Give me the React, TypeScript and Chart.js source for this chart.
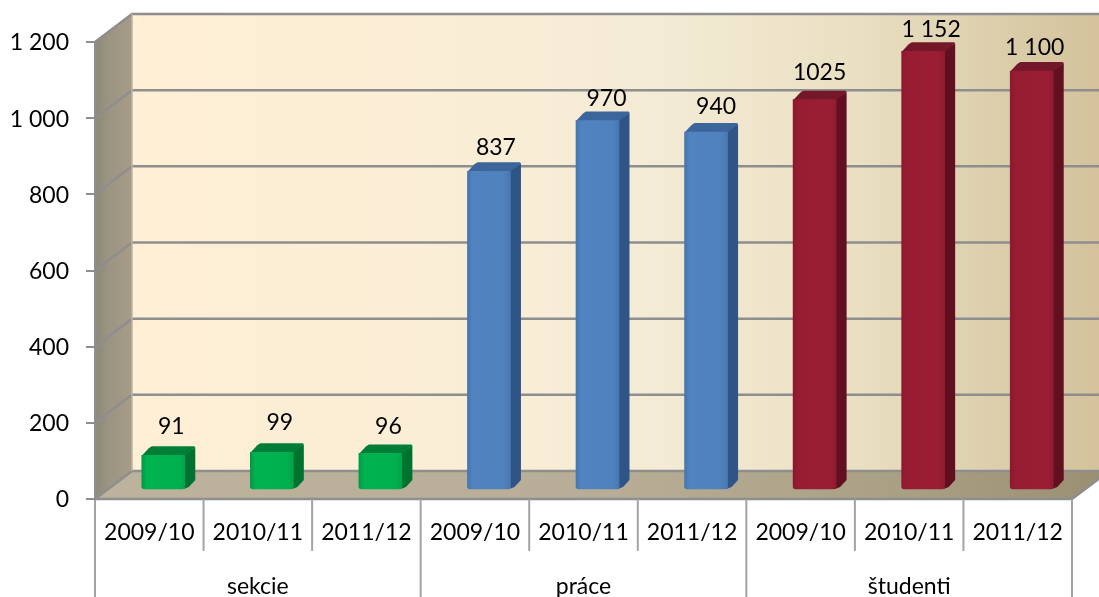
import React, { useEffect, useRef } from "react";
import { Chart, registerables } from "chart.js";

Chart.register(...registerables);

const years = ["2009/10", "2010/11", "2011/12", "2009/10", "2010/11", "2011/12", "2009/10", "2010/11", "2011/12"];
const groups = ["sekcie", "práce", "študenti"];
const values = [91, 99, 96, 837, 970, 940, 1025, 1152, 1100];
const valueLabels = ["91", "99", "96", "837", "970", "940", "1025", "1 152", "1 100"];
const yMax = 1200;
const yStep = 200;

const FONT = "Lato";
const FONT_SIZE = 23;
const W = 1099;
const H = 597;
const AXIS_W = 95;
const RIGHT_PAD = 27;
const TOP_PAD = 42;
const YEAR_ROW = 52;
const GROUP_ROW = 46;
const WALL_DX = 37;
const WALL_DY = 28;
const BAR_DX = 14;
const BAR_DY = 9;
const BAR_W = 43;
const SIDE_DX = 10.5;
const SIDE_DY = 9;
const LINE = "#8e8e8e";

// small per-label placement adjustments of the hand-placed value labels
const labelDx = [1, 1, 1, 0, 2, 3, -2, 1, -4];
const labelDy = [-11, -12, -9, -6, -4, -7, -9, -4, -6];

const palette = [
  { front: ["#009a45", "#00b351", "#00b04f", "#00a548"], top: "#007e37", side: "#00722f" },
  { front: ["#4676b0", "#5083c0", "#4f81bd", "#4878b2"], top: "#3c659b", side: "#2f5486" },
  { front: ["#8a1a2e", "#971c32", "#9b1e35", "#8f1b30"], top: "#74172a", side: "#62101f" },
];
const colorOf = (i: number) => palette[Math.floor(i / 3)];

const poly = (ctx: CanvasRenderingContext2D, pts: number[][], fill: any) => {
  ctx.beginPath();
  pts.forEach((p, i) => (i ? ctx.lineTo(p[0], p[1]) : ctx.moveTo(p[0], p[1])));
  ctx.closePath();
  ctx.fillStyle = fill;
  ctx.fill();
};

const hGrad = (ctx: CanvasRenderingContext2D, x0: number, x1: number, stops: [number, string][]) => {
  const g = ctx.createLinearGradient(x0, 0, x1, 0);
  stops.forEach(([o, c]) => g.addColorStop(o, c));
  return g;
};

const wallsPlugin = {
  id: "walls",
  beforeDraw(chart: any) {
    const { ctx, chartArea: a, scales } = chart;
    const y = scales.y;
    const bottom = y.getPixelForValue(0);
    const top = y.getPixelForValue(yMax);
    const backL = a.left + WALL_DX;
    const backR = a.right + WALL_DX;
    ctx.save();
    poly(
      ctx,
      [[backL, top - WALL_DY], [W, top - WALL_DY], [W, bottom - WALL_DY], [backL, bottom - WALL_DY]],
      hGrad(ctx, backL, W, [
        [0, "#feefd5"],
        [0.3, "#fbeed6"],
        [0.55, "#f4ebd5"],
        [0.75, "#e9dfc2"],
        [1, "#d3c29b"],
      ])
    );
    poly(
      ctx,
      [[a.left, bottom], [a.right, bottom], [backR, bottom - WALL_DY], [backL, bottom - WALL_DY]],
      hGrad(ctx, a.left, backR, [
        [0, "#bdb29b"],
        [0.5, "#b8ae97"],
        [0.8, "#a99f83"],
        [1, "#9a8f71"],
      ])
    );
    poly(
      ctx,
      [[a.left, top], [backL, top - WALL_DY], [backL, bottom - WALL_DY], [a.left, bottom]],
      hGrad(ctx, a.left, backL, [
        [0, "#8d8975"],
        [0.35, "#9a9482"],
        [1, "#a89c87"],
      ])
    );
    ctx.lineJoin = "round";
    ctx.strokeStyle = LINE;
    ctx.lineWidth = 2.5;
    for (const t of y.ticks) {
      const py = y.getPixelForValue(t.value);
      ctx.beginPath();
      ctx.moveTo(a.left, py);
      ctx.lineTo(backL, py - WALL_DY);
      ctx.lineTo(W, py - WALL_DY);
      ctx.stroke();
    }
    ctx.strokeStyle = "#b9b5a6";
    ctx.lineWidth = 1.5;
    ctx.beginPath();
    ctx.moveTo(backL, top - WALL_DY);
    ctx.lineTo(backL, bottom - WALL_DY);
    ctx.stroke();
    ctx.strokeStyle = LINE;
    ctx.lineWidth = 2.5;
    ctx.beginPath();
    ctx.moveTo(a.right, bottom);
    ctx.lineTo(backR, bottom - WALL_DY);
    ctx.moveTo(a.left, bottom);
    ctx.lineTo(a.right, bottom);
    ctx.stroke();
    // category separators under the axis
    ctx.strokeStyle = "#a3a3a3";
    ctx.lineWidth = 2;
    const x = scales.x;
    const step = (a.right - a.left) / years.length;
    for (let i = 0; i <= years.length; i++) {
      const px = x.getPixelForValue(i) - step / 2;
      const isGroup = i % 3 === 0;
      ctx.beginPath();
      ctx.moveTo(px, bottom);
      ctx.lineTo(px, isGroup ? H : bottom + YEAR_ROW);
      ctx.stroke();
    }
    ctx.restore();
  },
};

const bars3dPlugin = {
  id: "bars3d",
  beforeDatasetDraw(chart: any, args: any) {
    const { ctx } = chart;
    ctx.save();
    ctx.translate(BAR_DX, -BAR_DY);
    const meta = chart.getDatasetMeta(args.index);
    meta.data.forEach((el: any, i: number) => {
      const c = colorOf(i);
      const l = el.x - el.width / 2;
      const r = el.x + el.width / 2;
      const t = el.y;
      const b = el.base;
      poly(ctx, [[r - 1, t], [r + SIDE_DX, t - SIDE_DY + 1], [r + SIDE_DX, b - SIDE_DY], [r + 4, b - 2], [r - 1, b]], c.side);
      poly(ctx, [[l, t + 0.5], [l + 7, t - SIDE_DY + 2], [l + 10, t - SIDE_DY], [r + SIDE_DX - 1, t - SIDE_DY], [r + SIDE_DX, t - SIDE_DY + 1], [r, t + 0.5]], c.top);
    });
  },
  afterDatasetDraw(chart: any) {
    chart.ctx.restore();
  },
  afterDatasetsDraw(chart: any) {
    const { ctx } = chart;
    const meta = chart.getDatasetMeta(0);
    ctx.save();
    ctx.font = `${FONT_SIZE}px ${FONT}`;
    ctx.fillStyle = "#000";
    ctx.textAlign = "center";
    ctx.textBaseline = "middle";
    meta.data.forEach((el: any, i: number) => {
      ctx.fillText(valueLabels[i], el.x + BAR_DX + 7 + labelDx[i], el.y - BAR_DY - 18 + labelDy[i]);
    });
    ctx.restore();
  },
};

export default function App() {
  const ref = useRef<HTMLCanvasElement>(null);
  useEffect(() => {
    const chart = new Chart(ref.current!, {
      type: "bar",
      data: {
        labels: years,
        datasets: [
          {
            data: values,
            clip: false,
            barThickness: BAR_W,
            borderRadius: { topLeft: 0, topRight: 0, bottomLeft: 3, bottomRight: 3 },
            borderSkipped: false,
            backgroundColor: (c: any) => {
              const x = c.chart.scales?.x;
              const i = c.dataIndex ?? 0;
              const col = colorOf(i);
              const px = x ? x.getPixelForValue(i) : NaN;
              if (!Number.isFinite(px)) return col.front[1];
              return hGrad(c.chart.ctx, px - BAR_W / 2, px + BAR_W / 2, [
                [0, col.front[0]],
                [0.12, col.front[1]],
                [0.85, col.front[2]],
                [1, col.front[3]],
              ]);
            },
          },
        ],
      },
      options: {
        responsive: false,
        animation: false,
        events: [],
        layout: { padding: { top: TOP_PAD, right: RIGHT_PAD, left: 0, bottom: 0 } },
        plugins: { legend: { display: false }, tooltip: { enabled: false }, title: { display: false } },
        scales: {
          y: {
            min: 0,
            max: yMax,
            ticks: {
              stepSize: yStep,
              padding: 17,
              labelOffset: 1,
              color: "#000",
              font: { family: FONT, size: FONT_SIZE },
              callback: (v: any) => String(v).replace(/\B(?=(\d{3})+$)/g, " "),
            },
            grid: { drawOnChartArea: false, drawTicks: true, tickLength: 9, color: LINE, lineWidth: 2 },
            border: { display: true, color: LINE, width: 2.5 },
            afterFit: (s: any) => {
              s.width = AXIS_W;
            },
          },
          x: {
            type: "category",
            weight: 0,
            offset: true,
            grid: { display: false },
            border: { display: false },
            ticks: {
              autoSkip: false,
              maxRotation: 0,
              padding: 12,
              color: "#000",
              font: { family: FONT, size: FONT_SIZE },
            },
            afterFit: (s: any) => {
              s.height = YEAR_ROW;
            },
          },
          x2: {
            type: "category",
            axis: "x",
            position: "bottom",
            weight: 1,
            offset: true,
            labels: groups,
            grid: { display: false },
            border: { display: false },
            ticks: {
              autoSkip: false,
              maxRotation: 0,
              padding: 14,
              color: "#000",
              font: { family: FONT, size: FONT_SIZE },
            },
            afterFit: (s: any) => {
              s.height = GROUP_ROW;
            },
          },
        },
      } as any,
      plugins: [wallsPlugin, bars3dPlugin],
    });
    return () => chart.destroy();
  }, []);
  return (
    <div style={{ position: "fixed", left: 0, top: 0, width: W, height: H, background: "#fff", overflow: "hidden" }}>
      <canvas ref={ref} width={W} height={H} style={{ display: "block" }} />
    </div>
  );
}
